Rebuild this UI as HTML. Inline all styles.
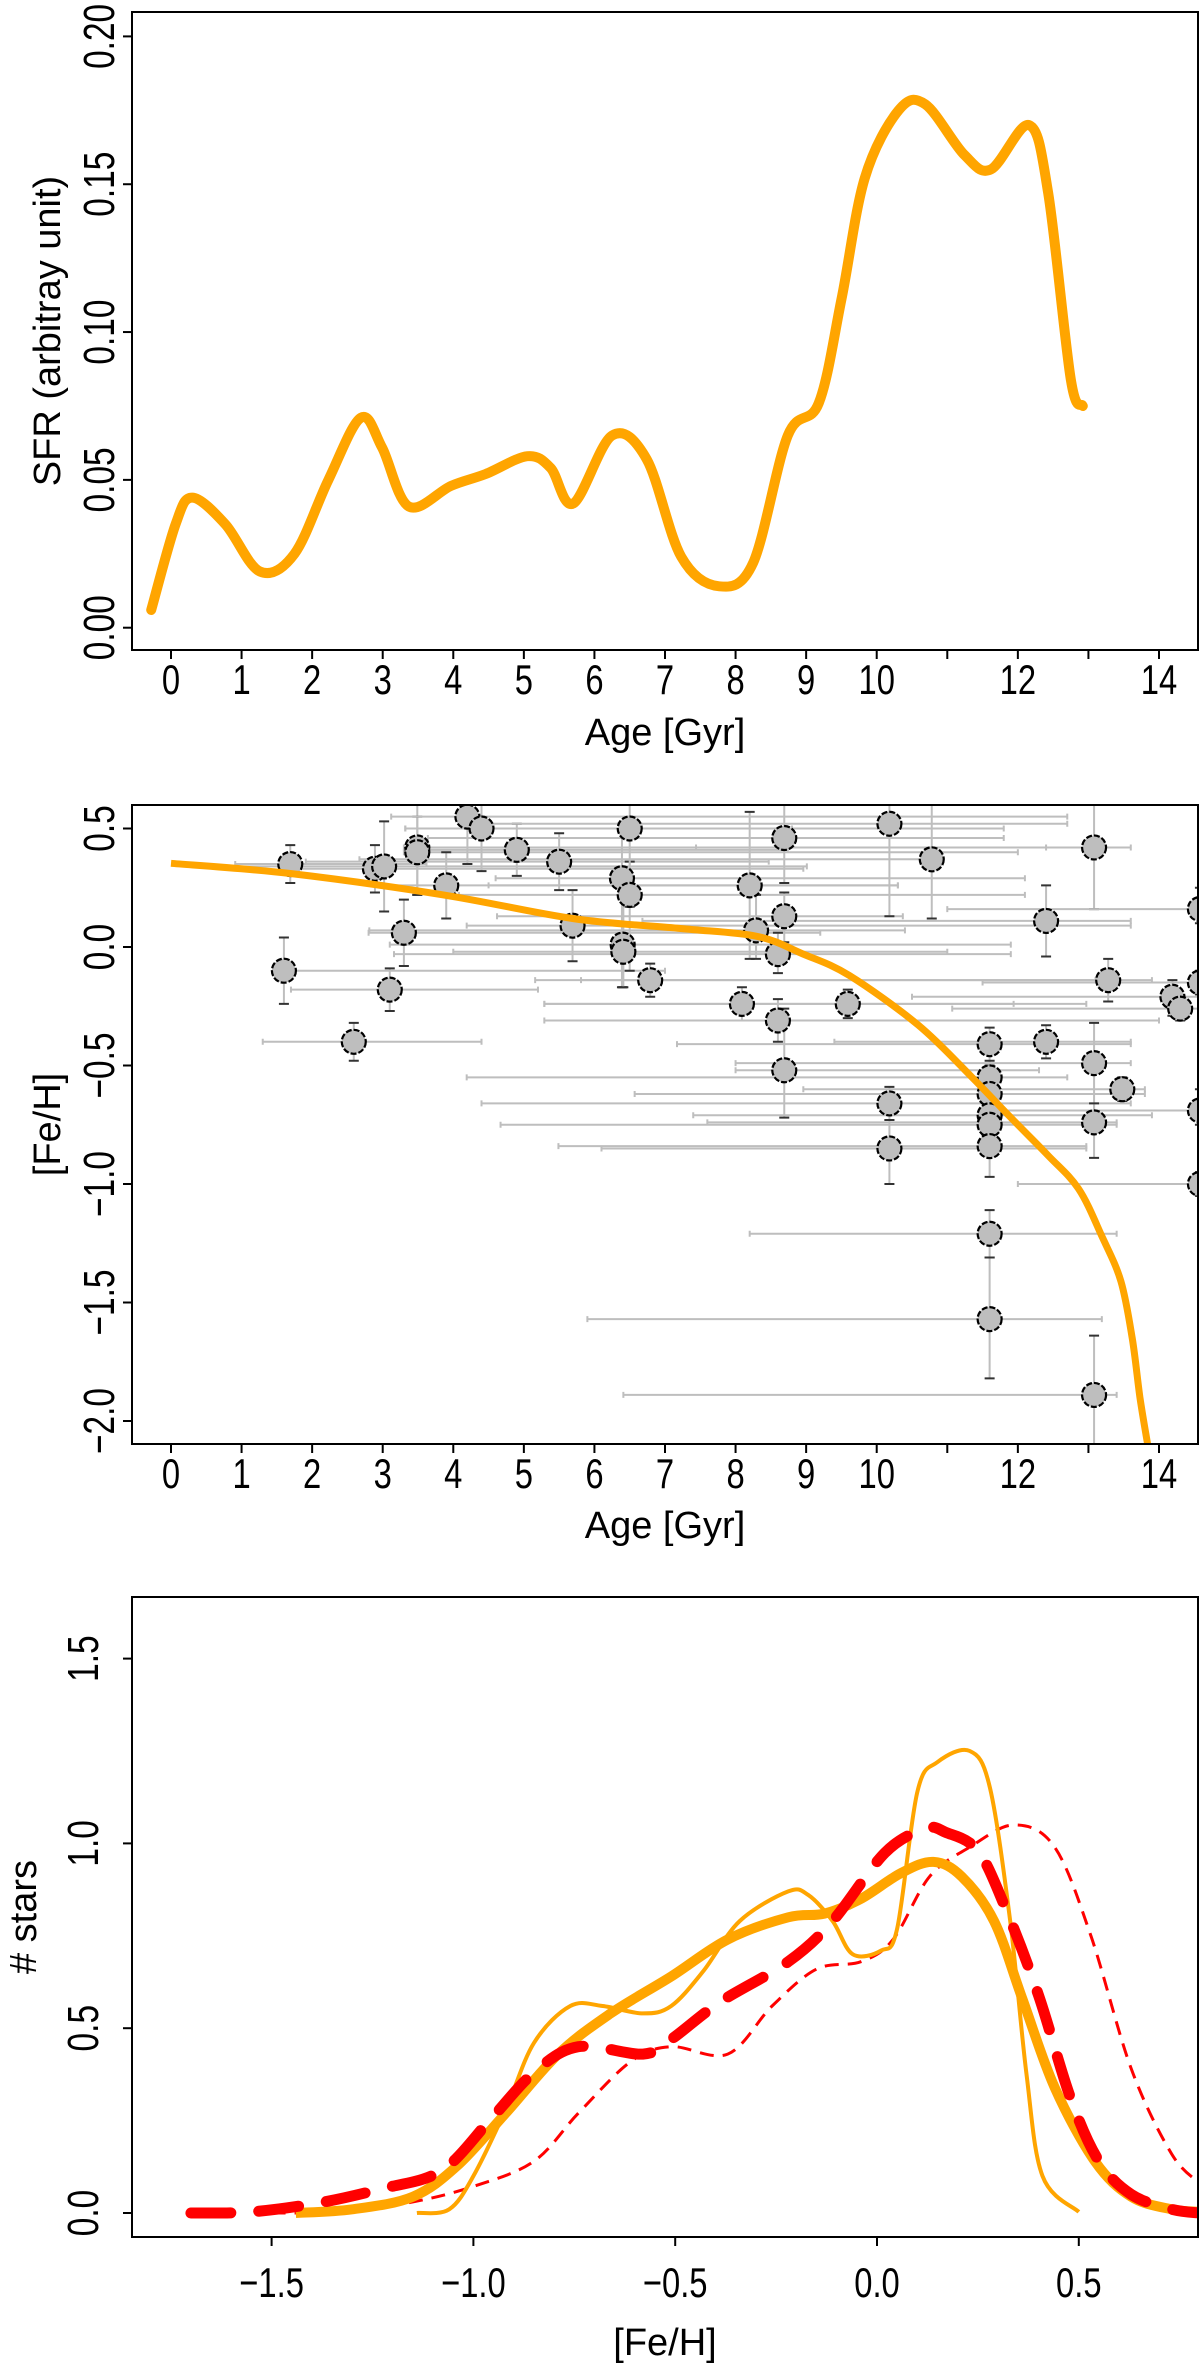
<!DOCTYPE html>
<html><head><meta charset="utf-8"><style>
html,body{margin:0;padding:0;background:#fff}
svg{display:block}
text{font-family:"Liberation Sans",sans-serif;fill:#000}
</style></head><body>
<svg id="fig" width="1200" height="2365" viewBox="0 0 1200 2365" xmlns="http://www.w3.org/2000/svg">
<defs>
<clipPath id="c1"><rect x="132" y="12" width="1066" height="638"/></clipPath>
<clipPath id="c2"><rect x="132" y="805" width="1066" height="639"/></clipPath>
<clipPath id="c3"><rect x="132" y="1597" width="1066" height="640"/></clipPath>
</defs>
</svg>
<script>
// ---- Panel 1 data: SFR vs age ----
const sfrAge = [-0.28,0.065,0.30,0.77,1.26,1.75,2.23,2.69,2.99,3.37,3.97,4.46,5.05,5.38,5.70,6.25,6.74,7.23,7.77,8.25,8.74,9.18,9.5,9.83,10.31,10.69,11.24,11.62,12.16,12.43,12.75,12.92];
const sfrVal = [0.006,0.035,0.044,0.035,0.019,0.025,0.050,0.071,0.061,0.041,0.048,0.052,0.058,0.054,0.042,0.065,0.057,0.024,0.014,0.022,0.065,0.076,0.111,0.152,0.175,0.177,0.160,0.155,0.170,0.147,0.084,0.075];
const p1XTicks = [0,1,2,3,4,5,6,7,8,9,10,11,12,13,14];
const p1XLabels = ["0","1","2","3","4","5","6","7","8","9","10","","12","","14"];
const p1YTicks = [0,0.05,0.10,0.15,0.20];
const p1YLabels = ["0.00","0.05","0.10","0.15","0.20"];

// ---- Panel 2 data: age-metallicity ----
const amrAge = [0,1.69,3.86,5.7,7.22,8.3,8.96,9.61,10.59,11.35,11.9,12.43,12.86,13.19,13.46,13.62,13.73,13.84];
const amrFeh = [0.353,0.31,0.22,0.12,0.078,0.045,-0.03,-0.12,-0.33,-0.55,-0.72,-0.88,-1.02,-1.22,-1.41,-1.65,-1.9,-2.1];
const starAge = [1.69,1.6,2.59,2.89,3.02,3.1,3.3,3.49,3.49,3.9,4.2,4.4,4.9,5.5,5.69,6.39,6.4,6.41,6.5,6.5,6.79,8.09,8.2,8.29,8.6,8.6,8.69,8.69,8.69,9.59,10.18,10.18,10.18,10.78,11.6,11.6,11.6,11.6,11.6,11.6,11.6,11.6,12.4,12.4,13.08,13.08,13.08,13.08,13.28,13.48,14.19,14.3,14.58,14.58,14.58,14.58];
const starFeh = [0.35,-0.10,-0.40,0.33,0.34,-0.18,0.06,0.42,0.40,0.26,0.55,0.50,0.41,0.36,0.09,0.29,0.01,-0.02,0.22,0.50,-0.14,-0.24,0.26,0.07,-0.03,-0.31,0.46,0.13,-0.52,-0.24,0.52,-0.66,-0.85,0.37,-0.41,-0.55,-0.62,-0.71,-0.75,-0.84,-1.21,-1.57,0.11,-0.40,0.42,-0.49,-0.74,-1.89,-0.14,-0.60,-0.21,-0.26,0.16,-0.69,-1.00,-0.15];
const ageLo = [0.91,1.64,1.3,1.8,0.93,1.7,2.8,3.3,3.3,2.99,3.12,3.32,3.32,1.91,4.19,4.6,3.1,4.0,4.08,3.32,5.16,5.29,4.5,2.81,3.16,5.29,3.64,4.62,8.0,5.29,4.35,4.4,6.1,2.67,7.17,4.19,6.57,7.4,4.67,5.49,8.2,5.9,6.68,9.4,7.44,8.0,7.6,6.41,5.81,8.96,10.5,11.07,11.0,11.5,12.0,11.5];
const ageHi = [3.62,7.0,4.4,8.96,9.01,5.2,9.2,12.4,12.0,10.3,12.7,11.8,8.74,8.47,13.6,12.1,11.9,11.0,12.1,8.8,13.1,12.97,10.3,10.4,11.9,14.0,11.8,10.37,12.3,11.94,12.7,13.6,12.97,10.91,13.6,12.7,13.8,13.9,13.4,12.97,13.4,13.19,13.6,13.6,13.6,13.6,13.4,13.4,13.9,13.8,14.6,14.6,14.6,14.6,14.6,14.6];
const fehLo = [0.27,-0.24,-0.48,0.23,0.15,-0.27,-0.08,0.22,0.22,0.12,0.35,0.32,0.30,0.24,-0.06,-0.17,-0.17,-0.17,-0.10,0.17,-0.21,-0.31,-0.05,-0.05,-0.11,-0.40,0.27,0.02,-0.72,-0.30,0.13,-0.73,-1.00,0.12,-0.50,-0.62,-0.70,-0.78,-0.82,-0.97,-1.31,-1.82,-0.04,-0.47,0.16,-0.70,-0.89,-2.1,-0.23,-0.65,-0.29,-0.31,0.10,-0.75,-1.05,-0.2];
const fehHi = [0.43,0.04,-0.32,0.43,0.53,-0.09,0.20,0.60,0.55,0.40,0.60,0.60,0.52,0.48,0.24,0.52,0.22,0.20,0.36,0.60,-0.07,-0.17,0.57,0.22,0.06,-0.22,0.60,0.23,-0.26,-0.18,0.60,-0.59,-0.73,0.60,-0.34,-0.48,-0.55,-0.63,-0.68,-0.73,-1.11,-1.31,0.26,-0.33,0.60,-0.32,-0.66,-1.64,-0.05,-0.55,-0.14,-0.21,0.25,-0.60,-0.95,-0.1];
const p2XTicks = [0,1,2,3,4,5,6,7,8,9,10,11,12,13,14];
const p2XLabels = ["0","1","2","3","4","5","6","7","8","9","10","","12","","14"];
const p2YTicks = [0.5,0,-0.5,-1.0,-1.5,-2.0];
const p2YLabels = ["0.5","0.0","\u22120.5","\u22121.0","\u22121.5","\u22122.0"];

// ---- Panel 3 data: metallicity distributions ----
const thickOrX = [-1.44,-1.30,-1.15,-1.04,-0.92,-0.79,-0.66,-0.51,-0.37,-0.22,-0.13,-0.04,0.06,0.14,0.21,0.29,0.36,0.44,0.54,0.63,0.73,0.80];
const thickOrY = [0,0.01,0.044,0.128,0.27,0.43,0.54,0.64,0.74,0.80,0.81,0.85,0.92,0.95,0.91,0.79,0.58,0.34,0.14,0.044,0.01,0.003];
const thinOrX = [-1.14,-1.06,-1.0,-0.92,-0.85,-0.76,-0.68,-0.58,-0.51,-0.43,-0.34,-0.22,-0.17,-0.11,-0.06,0.01,0.05,0.1,0.15,0.23,0.28,0.33,0.37,0.41,0.5];
const thinOrY = [0,0.01,0.1,0.28,0.46,0.56,0.56,0.54,0.56,0.655,0.79,0.87,0.86,0.79,0.70,0.71,0.77,1.14,1.22,1.25,1.15,0.79,0.38,0.1,0.003];
const thickRedX = [-1.7,-1.55,-1.38,-1.23,-1.08,-0.96,-0.85,-0.74,-0.58,-0.51,-0.39,-0.22,-0.11,0.02,0.12,0.17,0.25,0.32,0.40,0.48,0.55,0.63,0.73,0.8];
const thickRedY = [0,0.003,0.028,0.065,0.114,0.25,0.38,0.45,0.43,0.47,0.57,0.68,0.79,0.975,1.04,1.03,0.98,0.82,0.59,0.31,0.14,0.05,0.01,0];
const thinRedX = [-1.5,-1.32,-1.15,-1.0,-0.85,-0.74,-0.61,-0.51,-0.37,-0.26,-0.15,-0.04,0.04,0.13,0.23,0.34,0.44,0.53,0.63,0.73,0.8];
const thinRedY = [0,0.003,0.03,0.072,0.14,0.27,0.41,0.45,0.43,0.56,0.66,0.68,0.74,0.91,0.99,1.05,0.99,0.75,0.39,0.16,0.08];
const p3XTicks = [-1.5,-1.0,-0.5,0.0,0.5];
const p3XLabels = ["\u22121.5","\u22121.0","\u22120.5","0.0","0.5"];
const p3YTicks = [0,0.5,1.0,1.5];
const p3YLabels = ["0.0","0.5","1.0","1.5"];

const NS="http://www.w3.org/2000/svg";
const svg=document.getElementById('fig');
function mk(tag,attrs,parent){const e=document.createElementNS(NS,tag);for(const k in attrs)e.setAttribute(k,attrs[k]);(parent||svg).appendChild(e);return e;}
function lin(d0,d1,r0,r1){return v=>r0+(v-d0)*(r1-r0)/(d1-d0);}
function smooth(xs,ys,sx,sy){const p=xs.map((x,i)=>[sx(x),sy(ys[i])]);let d='M'+p[0][0].toFixed(1)+','+p[0][1].toFixed(1);
 for(let i=0;i<p.length-1;i++){const p0=p[i-1]||p[i],p1=p[i],p2=p[i+1],p3=p[i+2]||p2;
  const c1=[p1[0]+(p2[0]-p0[0])/6,p1[1]+(p2[1]-p0[1])/6],c2=[p2[0]-(p3[0]-p1[0])/6,p2[1]-(p3[1]-p1[1])/6];
  d+=' C'+c1.map(v=>v.toFixed(1)).join(',')+' '+c2.map(v=>v.toFixed(1)).join(',')+' '+p2[0].toFixed(1)+','+p2[1].toFixed(1);}
 return d;}
function axes(name,box,sx,sy,xt,xl,yt,yl,xTitle,yTitle,xlabY,xtitY,ylabX,ytitX){
 const g=mk('g',{});
 
 
 const fr=mk('rect',{x:box[0],y:box[1],width:box[2]-box[0],height:box[3]-box[1],fill:'none',stroke:'#000','stroke-width':2},g);
 
 
 xt.forEach((v,i)=>{const x=sx(v);
  mk('line',{x1:x,x2:x,y1:box[3],y2:box[3]+9,stroke:'#000','stroke-width':2},g);
  if(xl[i]){const t=mk('text',{x:0,y:0,'font-size':42,'text-anchor':'middle',transform:`translate(${x},${xlabY}) scale(0.78,1)`},g);t.textContent=xl[i];
  
  }
 });
 yt.forEach((v,i)=>{const y=sy(v);
  mk('line',{x1:box[0]-9,x2:box[0],y1:y,y2:y,stroke:'#000','stroke-width':2},g);
  const t=mk('text',{x:0,y:0,'font-size':44,'text-anchor':'middle',transform:`translate(${ylabX},${y}) rotate(-90) scale(0.76,1)`},g);t.textContent=yl[i];
  
  
 });
 const xt1=mk('text',{x:(box[0]+box[2])/2,y:xtitY,'font-size':38,'text-anchor':'middle'},g);xt1.textContent=xTitle;
 
 
 const yt1=mk('text',{x:0,y:0,'font-size':38,'text-anchor':'middle',transform:`translate(${ytitX},${(box[1]+box[3])/2}) rotate(-90)`},g);yt1.textContent=yTitle;
 
 
}

// Panel 1
{const sx=lin(0,14,171,1159), sy=lin(0,0.2,627.7,36.4);
 const p=mk('path',{d:smooth(sfrAge,sfrVal,sx,sy),fill:'none',stroke:'#FFA500','stroke-width':10,'stroke-linecap':'round','stroke-linejoin':'round','clip-path':'url(#c1)'});
 
 
 axes('sfr',[132,12,1198,650],sx,sy,p1XTicks,p1XLabels,p1YTicks,p1YLabels,'Age [Gyr]','SFR (arbitray unit)',694,745,114,60);
}
// Panel 2
{const sx=lin(0,14,171,1159), sy=lin(0,-2,947,1421);
 const g=mk('g',{'clip-path':'url(#c2)'});
 
 
 starAge.forEach((a,i)=>{
  const x=sx(a),y=sy(starFeh[i]),xl=sx(ageLo[i]),xh=sx(ageHi[i]),yl=sy(fehLo[i]),yh=sy(fehHi[i]);
  const eb=mk('path',{d:`M${xl},${y}H${xh}M${xl},${y-3}V${y+3}M${xh},${y-3}V${y+3}M${x},${yl}V${yh}`,stroke:'#BEBEBE','stroke-width':2,fill:'none'},g);
  
  
  const cp=mk('path',{d:`M${x-5},${yl}H${x+5}M${x-5},${yh}H${x+5}`,stroke:'#333','stroke-width':2},g);
  
  
 });
 starAge.forEach((a,i)=>{
  const c=mk('circle',{cx:sx(a),cy:sy(starFeh[i]),r:12,fill:'#BEBEBE',stroke:'#000','stroke-width':2.2,'stroke-dasharray':'6 2'},g);
  
  
 });
 const p=mk('path',{d:smooth(amrAge,amrFeh,sx,sy),fill:'none',stroke:'#FFA500','stroke-width':7,'clip-path':'url(#c2)'});
 
 
 axes('amr',[132,805,1198,1444],sx,sy,p2XTicks,p2XLabels,p2YTicks,p2YLabels,'Age [Gyr]','[Fe/H]',1488,1538,114,60);
}
// Panel 3
{const sx=lin(-1.5,0.5,271.6,1078.8), sy=lin(0,1.5,2213,1658.6);
 const defs=[[thinRedX,thinRedY,'#FF0000',3,'14 9','thin-red-dashed-curve'],[thinOrX,thinOrY,'#FFA500',4,'','thin-orange-curve'],[thickOrX,thickOrY,'#FFA500',10,'','thick-orange-curve'],[thickRedX,thickRedY,'#FF0000',11,'40 28','thick-red-dashed-curve']];
 defs.forEach(d=>{const p=mk('path',{d:smooth(d[0],d[1],sx,sy),fill:'none',stroke:d[2],'stroke-width':d[3],'stroke-dasharray':d[4]||'none','stroke-linecap':d[3]>8&&d[4]?'round':'butt','clip-path':'url(#c3)'});
  
  });
 axes('mdf',[132,1597,1198,2237],sx,sy,p3XTicks,p3XLabels,p3YTicks,p3YLabels,'[Fe/H]','# stars',2297,2355,98,36);
}
</script>
</body></html>
